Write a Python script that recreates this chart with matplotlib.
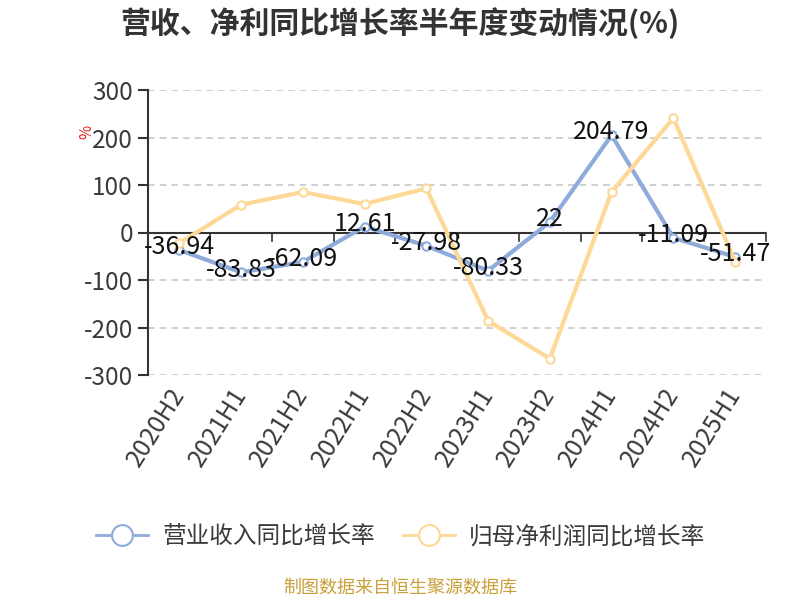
import matplotlib
matplotlib.use("Agg")
import matplotlib.pyplot as plt
from matplotlib.lines import Line2D

plt.rcParams['font.family'] = ['Noto Sans CJK SC', 'DejaVu Sans']
plt.rcParams['axes.unicode_minus'] = False

periods = ["2020H2", "2021H1", "2021H2", "2022H1", "2022H2",
           "2023H1", "2023H2", "2024H1", "2024H2", "2025H1"]
revenue_yoy = [-36.94, -83.83, -62.09, 12.61, -27.98, -80.33, 22, 204.79, -11.09, -51.47]
profit_yoy = [-22.5, 58.5, 85.2, 59.9, 93.0, -186.0, -265.5, 85.2, 240.8, -61.3]
revenue_labels = ["-36.94", "-83.83", "-62.09", "12.61", "-27.98",
                  "-80.33", "22", "204.79", "-11.09", "-51.47"]

BLUE = "#8eabdc"
YELLOW = "#fdd896"

fig = plt.figure(figsize=(8, 6), dpi=100)
ax = fig.add_axes([0.1855, 0.375, 0.772, 0.475])

x = list(range(len(periods)))
ax.plot(x, revenue_yoy, color=BLUE, lw=3, marker='o', ms=6,
        mfc='white', mec=BLUE, mew=1.5, zorder=3)
ax.plot(x, profit_yoy, color=YELLOW, lw=3, marker='o', ms=6,
        mfc='white', mec=YELLOW, mew=1.5, zorder=3)

for xi, yi, lab in zip(x, revenue_yoy, revenue_labels):
    ax.annotate(lab, (xi, yi), xytext=(0, 2), textcoords='offset points',
                ha='center', va='center', fontsize=18, color='#111111', zorder=4)

ax.set_xlim(-0.5, 9.5)
ax.set_ylim(-300, 300)
ax.set_yticks([-300, -200, -100, 0, 100, 200, 300])
ax.yaxis.grid(True, ls=(0, (4, 3)), color='#c8c8c8', lw=1.2)
ax.set_axisbelow(True)

for s in ['top', 'right', 'bottom']:
    ax.spines[s].set_visible(False)
ax.spines['left'].set_color('#333333')
ax.spines['left'].set_linewidth(1.5)
ax.tick_params(axis='y', colors='#333333', labelsize=17.5, length=7, width=1.5, pad=4)
ax.tick_params(axis='y', labelcolor='#3a3a3a')

# x axis line at zero with ticks between categories
ax.axhline(0, color='#333333', lw=1.5, zorder=2)
for b in [i + 0.5 for i in range(-1, len(periods))]:
    ax.plot([b, b], [0, -18], color='#333333', lw=1.2, zorder=2, clip_on=False)

ax.set_xticks(x)
ax.set_xticklabels(periods, rotation=58, ha='right', va='center',
                   rotation_mode='anchor', fontsize=18, color='#3a3a3a')
ax.tick_params(axis='x', length=0, pad=11)

fig.text(0.5, 0.962, "营收、净利同比增长率半年度变动情况(%)", ha='center', va='center',
         fontsize=21.5, fontweight='bold', color='#333333')
fig.text(0.109, 0.78, "%", ha='center', va='center', rotation=90,
         fontsize=11, color='#e02020')

handles = [
    Line2D([], [], color=BLUE, lw=2, marker='o', ms=15, mfc='white', mec=BLUE, mew=1.5),
    Line2D([], [], color=YELLOW, lw=2, marker='o', ms=15, mfc='white', mec=YELLOW, mew=1.5),
]
fig.legend(handles, ["营业收入同比增长率", "归母净利润同比增长率"], loc='center',
           bbox_to_anchor=(0.501, 0.105), ncol=2, frameon=False, fontsize=17,
           handlelength=2.2, columnspacing=1.2, handletextpad=0.6,
           labelcolor='#3a3a3a')

fig.text(0.5, 0.02, "制图数据来自恒生聚源数据库", ha='center', va='center',
         fontsize=13, color='#c9a03a')

fig.savefig("out.png", dpi=100)
